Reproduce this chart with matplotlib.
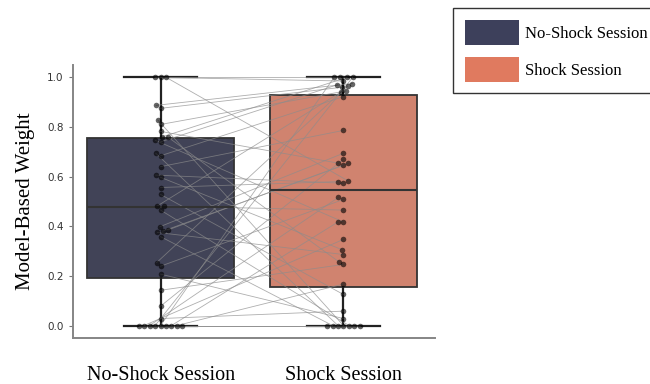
import colorsys
import numpy as np
import matplotlib
matplotlib.use("Agg")
import matplotlib.pyplot as plt
from matplotlib.colors import to_rgb
from matplotlib.patches import Patch

sessions = ["No-Shock Session", "Shock Session"]
colors = ["#3d405b", "#e07a5f"]

# paired weights, one entry per subject (no-shock, shock)
no_shock = [1.0, 1.0, 1.0, 0.887, 0.875, 0.828, 0.81, 0.782, 0.76, 0.76, 0.746, 0.74,
            0.694, 0.684, 0.64, 0.606, 0.597, 0.556, 0.528, 0.481, 0.481, 0.465,
            0.398, 0.385, 0.38, 0.375, 0.358, 0.253, 0.239, 0.207, 0.142, 0.078, 0.028,
            0.0, 0.0, 0.0, 0.0, 0.0, 0.0, 0.0, 0.0, 0.0]
shock = [1.0, 0.985, 0.582, 0.975, 0.96, 0.0, 0.945, 0.654, 1.0, 0.257, 0.417, 0.97,
         0.0, 0.922, 0.786, 0.573, 0.306, 0.58, 0.125, 0.94, 0.465, 0.0,
         0.694, 0.654, 0.645, 0.286, 0.0, 0.965, 0.508, 0.028, 0.246, 0.67, 0.058,
         1.0, 1.0, 0.0, 0.516, 0.417, 0.347, 0.167, 0.0, 0.0]

# box statistics
box_q1 = [0.19, 0.157]
box_med = [0.476, 0.544]
box_q3 = [0.755, 0.927]
whisk_lo = [0.0, 0.0]
whisk_hi = [1.0, 1.0]


def desaturate(c, prop):
    h, l, s = colorsys.rgb_to_hls(*to_rgb(c))
    return colorsys.hls_to_rgb(h, l, s * prop)


def swarm(vals, center, ax, d):
    # simple beeswarm in pixel space
    pts = ax.transData.transform(np.column_stack([np.full(len(vals), center), vals]))
    out = pts.copy()
    placed = []
    for i in np.argsort(pts[:, 1], kind="stable"):
        x0, y0 = pts[i]
        cands = [x0]
        for px, py in placed:
            dy = y0 - py
            if abs(dy) < d:
                dx = np.sqrt(d ** 2 - dy ** 2) * 1.05
                cands += [px - dx, px + dx]
        cands.sort(key=lambda c: abs(c - x0))
        for c in cands:
            if all((c - px) ** 2 + (y0 - py) ** 2 >= d ** 2 - 1e-6 for px, py in placed):
                break
        placed.append((c, y0))
        out[i] = (c, y0)
    return ax.transData.inverted().transform(out)


serif = "Liberation Serif"
fig = plt.figure(figsize=(6.5, 3.84), dpi=100)
ax = fig.add_axes([0.112, 0.12, 0.557, 0.711])
ax.set_xlim(-0.48, 1.5)
ax.set_ylim(-0.05, 1.05)

stats = []
for i in range(2):
    stats.append(dict(med=box_med[i], q1=box_q1[i], q3=box_q3[i],
                      whislo=whisk_lo[i], whishi=whisk_hi[i], fliers=[]))
bp = ax.bxp(stats, positions=[0, 1], widths=0.8, capwidths=0.4, patch_artist=True,
            showfliers=False, manage_ticks=False,
            boxprops=dict(edgecolor="#333333", linewidth=1.3),
            medianprops=dict(color="#333333", linewidth=1.5),
            whiskerprops=dict(color="#222222", linewidth=1.6),
            capprops=dict(color="#222222", linewidth=1.6))
for patch, c in zip(bp["boxes"], colors):
    patch.set_facecolor(desaturate(c, 0.75))
    patch.set_zorder(1)

d = 5.2
left_xy = swarm(no_shock, 0, ax, d)
right_xy = swarm(shock, 1, ax, d)

for (x1, y1), (x2, y2) in zip(left_xy, right_xy):
    ax.plot([x1, x2], [y1, y2], color="#8c8c8c", lw=0.6, alpha=0.7, zorder=2)

ax.scatter(left_xy[:, 0], left_xy[:, 1], s=16, color="black", alpha=0.6, lw=0, zorder=3)
ax.scatter(right_xy[:, 0], right_xy[:, 1], s=16, color="black", alpha=0.6, lw=0, zorder=3)

yt = [0.0, 0.2, 0.4, 0.6, 0.8, 1.0]
ax.set_yticks(yt)
ax.set_yticklabels([f"{v:.1f}" for v in yt], fontsize=7.5, color="#333333")
ax.tick_params(axis="y", length=3, color="#777777")
ax.set_xticks([0, 1])
ax.set_xticklabels(sessions, fontsize=14.5, family=serif)
ax.tick_params(axis="x", length=0, pad=20)
ax.set_ylabel("Model-Based Weight", fontsize=15, family=serif, labelpad=9)

for s in ["top", "right"]:
    ax.spines[s].set_visible(False)
for s in ["left", "bottom"]:
    ax.spines[s].set_color("#858585")
    ax.spines[s].set_linewidth(1.4)

handles = [Patch(facecolor=c, edgecolor="none") for c in colors]
leg = fig.legend(handles, sessions, loc="upper left", bbox_to_anchor=(0.6975, 0.979),
                 borderaxespad=0, prop=dict(family=serif, size=12), frameon=True,
                 fancybox=False, framealpha=1, edgecolor="#333333",
                 handlelength=3.25, handleheight=1.93, handletextpad=0.35,
                 labelspacing=0.72, borderpad=0.7)
leg.get_frame().set_linewidth(1.0)

fig.savefig("out.png", dpi=100)
